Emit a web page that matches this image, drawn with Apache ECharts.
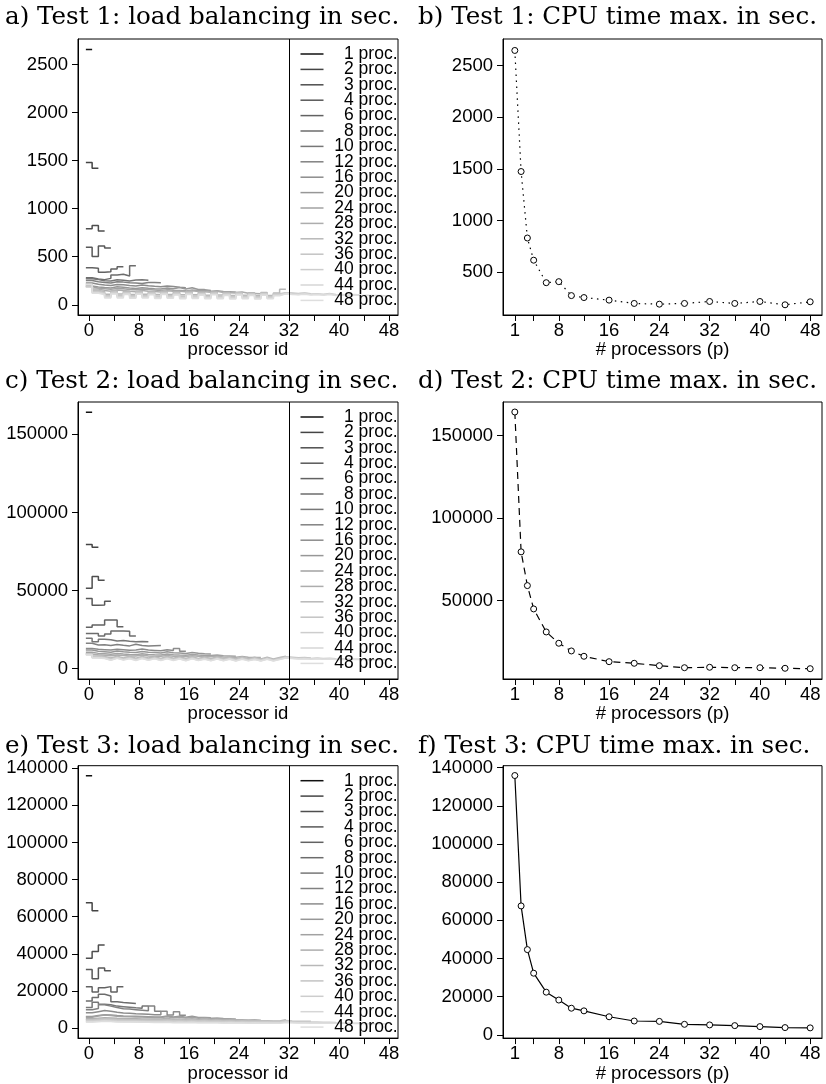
<!DOCTYPE html>
<html>
<head>
<meta charset="utf-8">
<script src="https://cdn.jsdelivr.net/npm/echarts@6/dist/echarts.min.js"></script>
<style>
  html, body { margin: 0; padding: 0; background: #fff; }
  #chart { width: 826px; height: 1084px; }
</style>
</head>
<body>
<div id="chart"></div>
<script>
// processor counts used in every test
const procCounts = [1, 2, 3, 4, 6, 8, 10, 12, 16, 20, 24, 28, 32, 36, 40, 44, 48]
const legendNames = procCounts.map(p => p + ' proc.')

// tick labels
const procIdTicks = [0, 4, 8, 12, 16, 20, 24, 28, 32, 36, 40, 44, 48]
const procIdLabels = [0, 8, 16, 24, 32, 40, 48]
const procTicks = [1, 4, 8, 12, 16, 20, 24, 28, 32, 36, 40, 44, 48]
const procLabels = [1, 8, 16, 24, 32, 40, 48]
const yTicksA = [0, 500, 1000, 1500, 2000, 2500]
const yTicksB = [500, 1000, 1500, 2000, 2500]
const yTicksC = [0, 50000, 100000, 150000]
const yTicksD = [50000, 100000, 150000]
const yTicksE = [0, 20000, 40000, 60000, 80000, 100000, 120000, 140000]
const yTicksF = [0, 20000, 40000, 60000, 80000, 100000, 120000, 140000]

// Test 1: time per processor id, one row per processor count
const loadTest1 = [
  [2655],
  [1480, 1420],
  [790, 826, 768],
  [600, 503, 612, 590],
  [385, 380, 338, 345, 372, 397],
  [282, 268, 262, 275, 310, 318, 300, 407],
  [272, 262, 250, 248, 260, 255, 248, 258, 260, 256],
  [253, 240, 232, 228, 240, 236, 230, 228, 222, 231, 232, 230],
  [228, 215, 205, 200, 212, 208, 200, 195, 205, 198, 192, 188, 196, 190, 182, 178],
  [196, 185, 180, 176, 188, 182, 175, 170, 178, 172, 168, 165, 175, 168, 180, 165, 178, 160, 158, 150],
  [189, 172, 168, 162, 170, 166, 160, 156, 164, 158, 154, 150, 158, 152, 150, 145, 155, 148, 150, 140, 146, 138, 135, 132],
  [196, 165, 150, 142, 155, 150, 140, 136, 150, 142, 138, 134, 146, 140, 142, 135, 146, 138, 136, 130, 140, 128, 126, 122, 134, 120, 118, 115],
  [215, 150, 138, 110, 145, 112, 140, 108, 142, 110, 136, 106, 140, 108, 134, 105, 138, 104, 130, 100, 132, 102, 128, 98, 130, 100, 126, 96, 128, 98, 124, 163],
  [196, 140, 126, 95, 132, 98, 128, 94, 130, 96, 125, 92, 128, 94, 122, 90, 126, 92, 120, 88, 124, 90, 118, 86, 122, 88, 116, 85, 120, 86, 114, 126, 122, 118, 124, 116],
  [215, 132, 120, 88, 126, 90, 122, 86, 124, 88, 118, 84, 122, 86, 116, 82, 120, 84, 114, 80, 118, 82, 112, 78, 116, 80, 110, 76, 114, 78, 108, 124, 118, 114, 120, 112, 116, 110, 118, 108],
  [183, 125, 112, 78, 118, 80, 114, 76, 116, 78, 110, 74, 114, 76, 108, 72, 112, 74, 106, 70, 110, 72, 104, 68, 108, 70, 102, 66, 106, 68, 100, 118, 112, 108, 114, 106, 110, 104, 112, 102, 108, 100, 106, 102],
  [212, 120, 106, 70, 112, 72, 108, 68, 110, 70, 104, 66, 108, 68, 102, 64, 106, 66, 100, 62, 104, 64, 98, 60, 102, 62, 96, 60, 100, 62, 94, 114, 108, 104, 110, 102, 106, 100, 108, 98, 104, 96, 102, 98, 100, 96, 98, 94]
]

// Test 2
const loadTest2 = [
  [164100],
  [79500, 77800],
  [51500, 59000, 56600],
  [44900, 40600, 40800, 43200],
  [26500, 28000, 28000, 31100, 31100, 26900],
  [22600, 22600, 20900, 22200, 24200, 24200, 24000, 20900],
  [19500, 17300, 18800, 18500, 17800, 18000, 17600, 17300, 17400, 17200],
  [16300, 15200, 15400, 14800, 15500, 15000, 14600, 15600, 14900, 14500, 14700, 14800],
  [13000, 12400, 12200, 12000, 12500, 12200, 11800, 12000, 12600, 11900, 11700, 11500, 12100, 11600, 12900, 11200],
  [12000, 11200, 10900, 10600, 11300, 10800, 10500, 10400, 11000, 10500, 10300, 10100, 10800, 10200, 10000, 9800, 10400, 9900, 9600, 9400],
  [10600, 9800, 9500, 9200, 9800, 9400, 9100, 9000, 9600, 9100, 8900, 8800, 9400, 8900, 8700, 8600, 9100, 8700, 8500, 8400, 8800, 8300, 8200, 8000],
  [9400, 8900, 8600, 8300, 8800, 8500, 8200, 8100, 8700, 8200, 8000, 7900, 8500, 8000, 7900, 7800, 8300, 7900, 7700, 7600, 8000, 7500, 7400, 7300, 7800, 7300, 7200, 7100],
  [9600, 8200, 7900, 6800, 8000, 6900, 7800, 6700, 7900, 6800, 7700, 6600, 7800, 6700, 7600, 6500, 7700, 6600, 7500, 6400, 7600, 6500, 7400, 6300, 7500, 6400, 7300, 6300, 7400, 6300, 7200, 7900],
  [9400, 7700, 7400, 6300, 7500, 6400, 7300, 6200, 7400, 6300, 7200, 6100, 7300, 6200, 7100, 6000, 7200, 6100, 7000, 5900, 7100, 6000, 6900, 5800, 7000, 5900, 6800, 5800, 6900, 5800, 6700, 7600, 7300, 7000, 7200, 6900],
  [9400, 7300, 7000, 5900, 7100, 6000, 6900, 5800, 7000, 5900, 6800, 5700, 6900, 5800, 6700, 5600, 6800, 5700, 6600, 5500, 6700, 5600, 6500, 5400, 6600, 5500, 6400, 5400, 6500, 5400, 6300, 7300, 7000, 6700, 6900, 6600, 6800, 6500, 6700, 6400],
  [9000, 7000, 6700, 5600, 6800, 5700, 6600, 5500, 6700, 5600, 6500, 5400, 6600, 5500, 6400, 5300, 6500, 5400, 6300, 5200, 6400, 5300, 6200, 5100, 6300, 5200, 6100, 5100, 6200, 5100, 6000, 7000, 6700, 6400, 6600, 6300, 6500, 6200, 6400, 6100, 6300, 6000, 6200, 6100],
  [8800, 6800, 6500, 5400, 6600, 5500, 6400, 5300, 6500, 5400, 6300, 5200, 6400, 5300, 6200, 5100, 6300, 5200, 6100, 5000, 6200, 5100, 6000, 4900, 6100, 5000, 5900, 4900, 6000, 4900, 5800, 6800, 6500, 6200, 6400, 6100, 6300, 6000, 6200, 5900, 6100, 5800, 6000, 5900, 5800, 5700, 5900, 5600]
]

// Test 3
const loadTest3 = [
  [135900],
  [67500, 63200],
  [37600, 41200, 44700],
  [31500, 26500, 32300, 30900],
  [22200, 19400, 21700, 22300, 19400, 22200],
  [14600, 16400, 18200, 17300, 14200, 13800, 13500, 13200],
  [11000, 13900, 12800, 12500, 11800, 11500, 11200, 10900, 10700, 11800],
  [9800, 10500, 12500, 11800, 11000, 10400, 10200, 9900, 9600, 9300, 11900, 9000],
  [8200, 8800, 9400, 9000, 8500, 8100, 7900, 7700, 7600, 7400, 7200, 7100, 9000, 7000, 8800, 6900],
  [6200, 6800, 7200, 7000, 6700, 6500, 6400, 6300, 6200, 6100, 6000, 6000, 6500, 5900, 6300, 5800, 6400, 5700, 5600, 5500],
  [5800, 6500, 7000, 6800, 6400, 6200, 6100, 6000, 5900, 5800, 5700, 5600, 6100, 5500, 5900, 5400, 5800, 5300, 5500, 5200, 5400, 5100, 5000, 4900],
  [5000, 5300, 5470, 5400, 5200, 5100, 5000, 5000, 4900, 4900, 4800, 4800, 5100, 4700, 4900, 4700, 5000, 4600, 4800, 4500, 4700, 4500, 4600, 4400, 4500, 4300, 4400, 4200],
  [4600, 4900, 5150, 5000, 4800, 4700, 4600, 4600, 4500, 4500, 4400, 4400, 4700, 4300, 4500, 4300, 4600, 4200, 4400, 4200, 4300, 4100, 4200, 4000, 4100, 4000, 4000, 3900, 3900, 3800, 3800, 4500],
  [4300, 4600, 4790, 4700, 4500, 4400, 4300, 4300, 4200, 4200, 4100, 4100, 4300, 4000, 4200, 4000, 4200, 3900, 4100, 3900, 4000, 3800, 3900, 3700, 3800, 3700, 3700, 3600, 3600, 3500, 3500, 4100, 3800, 3700, 3600, 3600],
  [3900, 4100, 4280, 4200, 4000, 3900, 3900, 3800, 3800, 3700, 3700, 3600, 3800, 3600, 3700, 3500, 3700, 3500, 3600, 3400, 3500, 3400, 3400, 3300, 3400, 3300, 3300, 3200, 3200, 3100, 3100, 3700, 3400, 3300, 3300, 3200, 3200, 3100, 3100, 3000],
  [3400, 3600, 3760, 3700, 3500, 3400, 3400, 3300, 3300, 3300, 3200, 3200, 3300, 3100, 3200, 3100, 3200, 3000, 3100, 3000, 3000, 2900, 3000, 2900, 2900, 2800, 2900, 2800, 2800, 2700, 2700, 3200, 3000, 2900, 2900, 2800, 2800, 2700, 2700, 2700, 2600, 2600, 2600, 2500],
  [3200, 3400, 3610, 3500, 3300, 3300, 3200, 3200, 3100, 3100, 3000, 3000, 3100, 2900, 3000, 2900, 3000, 2800, 2900, 2800, 2800, 2700, 2800, 2700, 2700, 2600, 2700, 2600, 2600, 2500, 2500, 3000, 2800, 2700, 2700, 2600, 2600, 2600, 2500, 2500, 2500, 2400, 2400, 2400, 2300, 2300, 2300, 2200]
]

// max CPU time for each processor count
const cpuMaxTest1 = [2647, 1474, 830, 615, 397, 407, 272, 253, 228, 196, 189, 196, 215, 196, 215, 183, 212]
const cpuMaxTest2 = [164180, 79520, 59090, 44970, 31030, 24180, 19520, 16300, 13030, 12060, 10610, 9390, 9640, 9390, 9390, 9030, 8790]
const cpuMaxTest3 = [135880, 67530, 44640, 32270, 22320, 18200, 13920, 12530, 9430, 7200, 7010, 5470, 5150, 4790, 4280, 3760, 3610]

const titles = [
  'a) Test 1: load balancing in sec.', 'b) Test 1: CPU time max. in sec.',
  'c) Test 2: load balancing in sec.', 'd) Test 2: CPU time max. in sec.',
  'e) Test 3: load balancing in sec.', 'f) Test 3: CPU time max. in sec.'
]

const grayShades = ['#111111', '#444444', '#4e4e4e', '#585858', '#626262', '#6c6c6c', '#777777', '#818181',
  '#8c8c8c', '#979797', '#a2a2a2', '#adadad', '#b8b8b8', '#c3c3c3', '#cdcdcd', '#d6d6d6', '#dedede']

const sansFont = '"Liberation Sans", Arial, sans-serif'
const serifFont = '"DejaVu Serif", serif'

// layout per row
const rowTop = [39, 402, 765.7]
const rowBottom = [315, 679, 1042.7]
const rows = [
  { load: loadTest1, cpu: cpuMaxTest1, yL: [-106, 2765], yR: [84, 2758], tL: yTicksA, tR: yTicksB, dash: [1.5, 4.5], gapL: 18, gapR: 20 },
  { load: loadTest2, cpu: cpuMaxTest2, yL: [-6590, 170670], yR: [2545, 170240], tL: yTicksC, tR: yTicksD, dash: [7, 5], gapL: 18, gapR: 20 },
  { load: loadTest3, cpu: cpuMaxTest3, yL: [-5436, 141336], yR: [-1750, 141030], tL: yTicksE, tR: yTicksF, dash: 'solid', gapL: 14, gapR: 14 }
]

// each processor id i gets a flat segment from i-0.5 to i+0.5
const stepPoints = values => {
  const pts = []
  values.forEach((v, i) => {
    pts.push([i - 0.5, v])
    pts.push([i + 0.5, v])
  })
  return pts
}

const tickLabelStyle = { color: '#000', fontSize: 18.5, fontFamily: sansFont, formatter: v => String(v) }

const makeXAxis = (gridIndex, isLeft, gap) => ({
  type: 'value',
  gridIndex,
  min: isLeft ? -1.76 : -0.88,
  max: isLeft ? 49.44 : 49.88,
  name: isLeft ? 'processor id' : '# processors (p)',
  nameLocation: 'middle',
  nameGap: gap,
  nameTextStyle: { color: '#000', fontSize: 18.5, fontFamily: sansFont },
  axisLine: { show: true, onZero: false, lineStyle: { color: '#000', width: 1 } },
  axisTick: { show: true, length: 6, customValues: isLeft ? procIdTicks : procTicks, lineStyle: { color: '#000' } },
  axisLabel: { ...tickLabelStyle, margin: 6, customValues: isLeft ? procIdLabels : procLabels },
  splitLine: { show: false }
})

const makeYAxis = (gridIndex, range, ticks) => ({
  type: 'value',
  gridIndex,
  min: range[0],
  max: range[1],
  axisLine: { show: true, onZero: false, lineStyle: { color: '#000', width: 1 } },
  axisTick: { show: true, length: 6, customValues: ticks, lineStyle: { color: '#000' } },
  axisLabel: { ...tickLabelStyle, margin: 10, customValues: ticks },
  splitLine: { show: false }
})

const grid = []
const xAxis = []
const yAxis = []
const series = []
const legend = []
const title = []

rows.forEach((row, r) => {
  const h = rowBottom[r] - rowTop[r]
  grid.push({ left: 78, top: rowTop[r], width: 320, height: h, show: true, borderColor: '#000', borderWidth: 1 })
  grid.push({ left: 503, top: rowTop[r], width: 319, height: h, show: true, borderColor: '#000', borderWidth: 1 })

  xAxis.push(makeXAxis(2 * r, true, row.gapL))
  xAxis.push(makeXAxis(2 * r + 1, false, row.gapR))
  yAxis.push(makeYAxis(2 * r, row.yL, row.tL))
  yAxis.push(makeYAxis(2 * r + 1, row.yR, row.tR))

  // load balancing steps
  row.load.forEach((vals, k) => {
    const s = {
      type: 'line',
      name: legendNames[k],
      xAxisIndex: 2 * r,
      yAxisIndex: 2 * r,
      data: stepPoints(vals),
      symbol: 'none',
      silent: true,
      lineStyle: { color: grayShades[k], width: 1.5 },
      itemStyle: { color: grayShades[k] }
    }
    if (k === 0) {
      // separator between the curves and the legend
      s.markLine = {
        symbol: 'none',
        silent: true,
        label: { show: false },
        lineStyle: { color: '#000', width: 1, type: 'solid' },
        data: [{ xAxis: 32 }]
      }
    }
    series.push(s)
  })

  // max CPU time curve
  series.push({
    type: 'line',
    xAxisIndex: 2 * r + 1,
    yAxisIndex: 2 * r + 1,
    data: procCounts.map((p, i) => [p, row.cpu[i]]),
    symbol: 'circle',
    symbolSize: 6,
    silent: true,
    lineStyle: { color: '#000', width: 1.2, type: row.dash },
    itemStyle: { color: '#fff', borderColor: '#000', borderWidth: 1 }
  })

  legend.push({
    orient: 'vertical',
    left: 300.5,
    top: rowTop[r] + 6,
    icon: 'rect',
    itemWidth: 23,
    itemHeight: 1.5,
    itemGap: -2.6,
    padding: 0,
    selectedMode: false,
    data: legendNames,
    formatter: n => '{t|' + n + '}',
    textStyle: {
      rich: { t: { width: 69, align: 'right', fontSize: 17.5, lineHeight: 15.33, fontFamily: sansFont, color: '#000' } }
    }
  })

  const baseY = [5.4, 369.4, 734.4][r]
  title.push({ text: titles[2 * r], left: 5, top: baseY, padding: 0,
    textStyle: { fontFamily: serifFont, fontSize: 24.6, lineHeight: 24.6, fontWeight: 'normal', color: '#000' } })
  title.push({ text: titles[2 * r + 1], left: 418, top: baseY, padding: 0,
    textStyle: { fontFamily: serifFont, fontSize: 24.6, lineHeight: 24.6, fontWeight: 'normal', color: '#000' } })
})

const chart = echarts.init(document.getElementById('chart'))
chart.setOption({
  animation: false,
  backgroundColor: '#fff',
  title,
  grid,
  xAxis,
  yAxis,
  legend,
  series
})
</script>
</body>
</html>
